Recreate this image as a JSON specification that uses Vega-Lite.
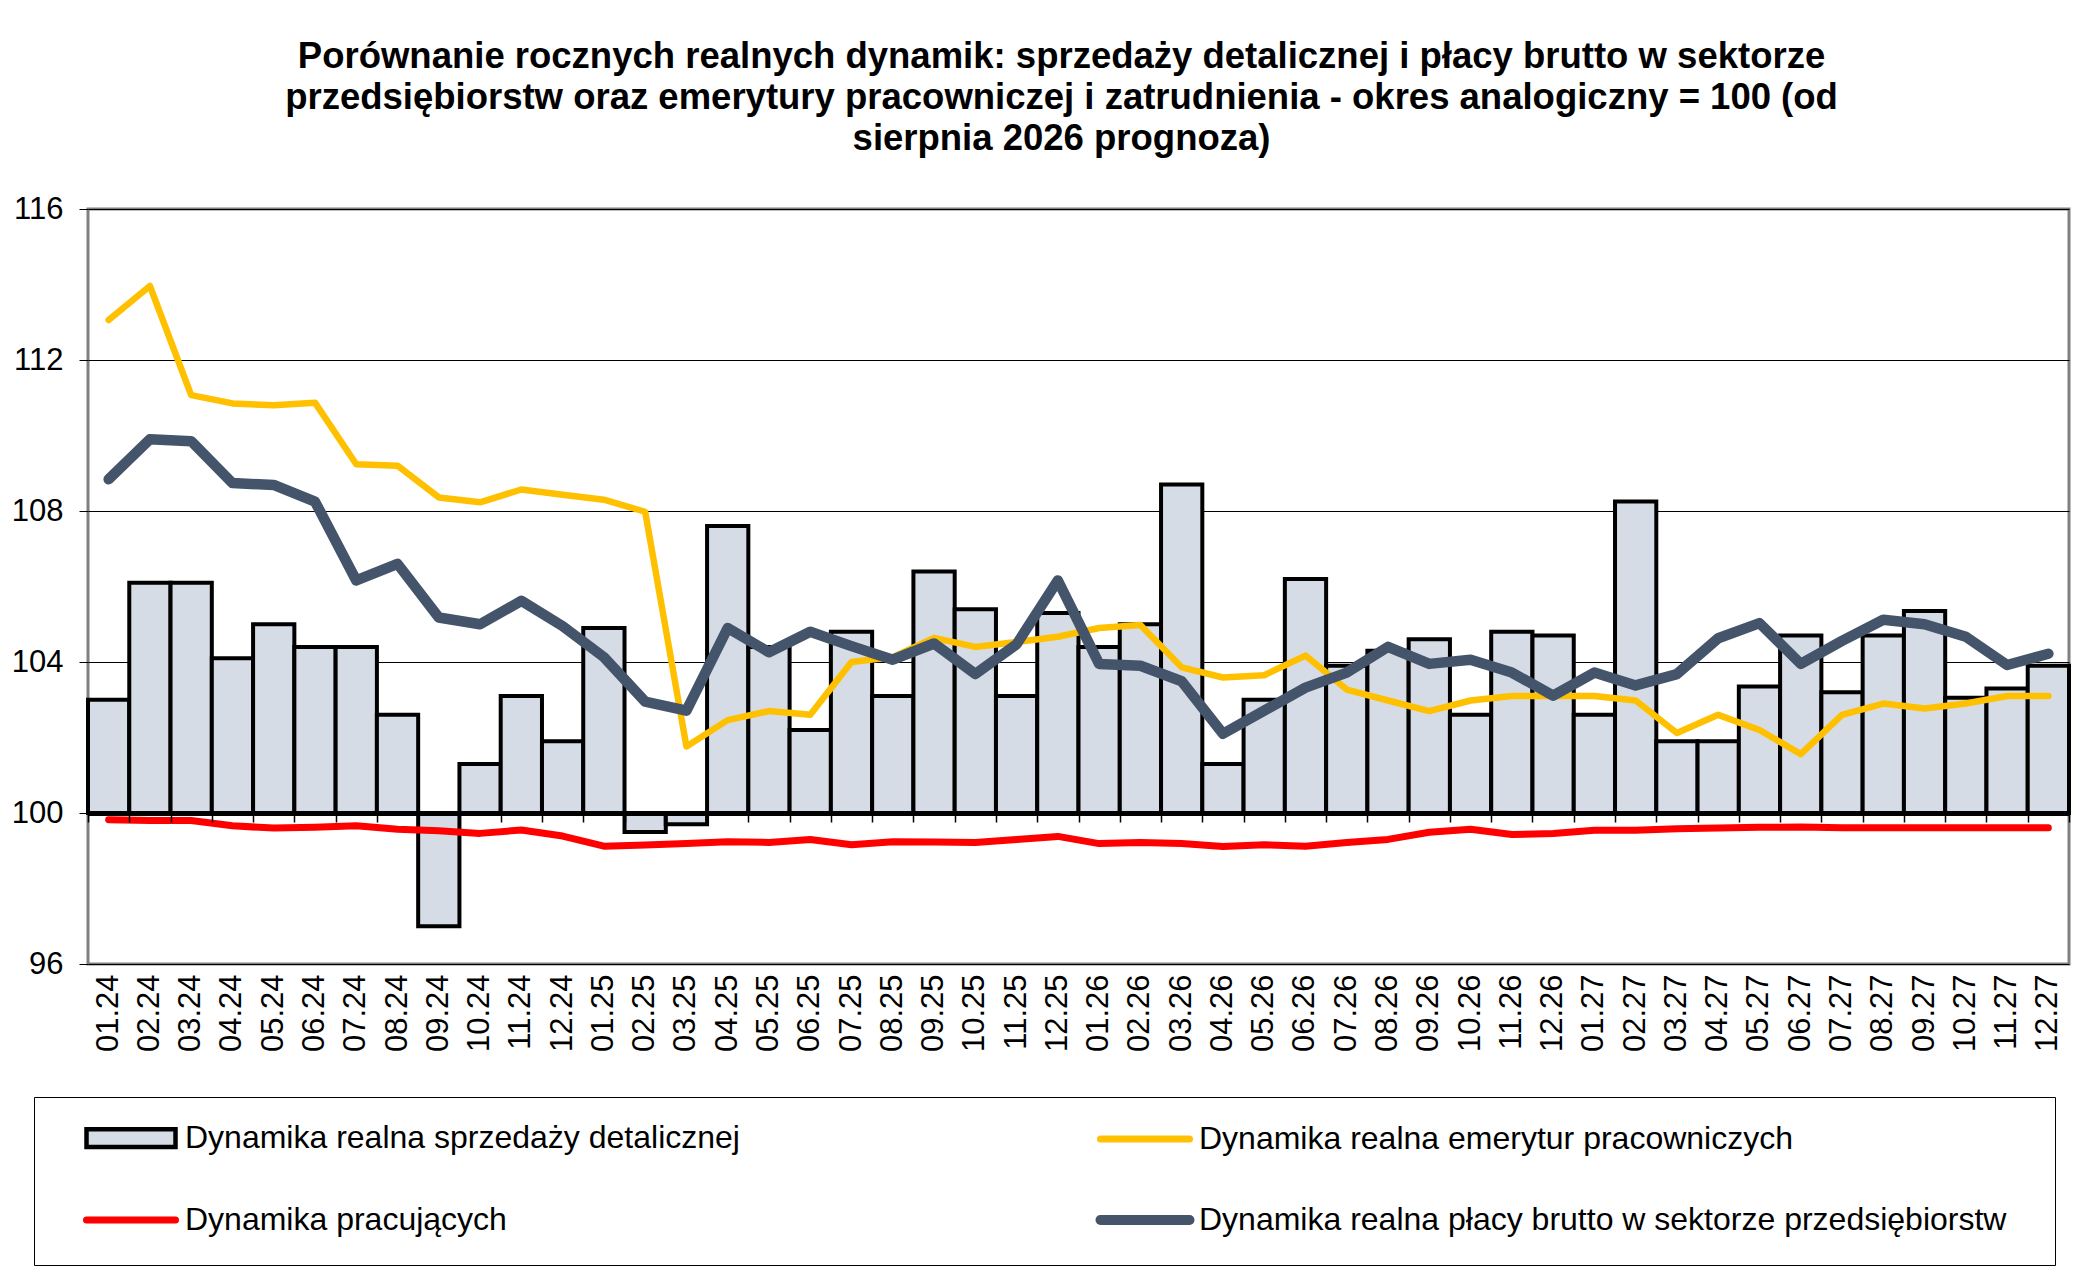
{
  "$schema": "https://vega.github.io/schema/vega-lite/v6.json",
  "width": 1981,
  "height": 755,
  "padding": {"left": 11, "top": 38, "right": 10, "bottom": 10},
  "background": "white",
  "config": {
    "font": "Liberation Sans",
    "view": {"stroke": "#808080", "strokeWidth": 3}
  },
  "title": {
    "text": [
      "Porównanie rocznych realnych dynamik: sprzedaży detalicznej i płacy brutto w sektorze",
      "przedsiębiorstw oraz emerytury pracowniczej i zatrudnienia - okres analogiczny = 100 (od",
      "sierpnia 2026 prognoza)"
    ],
    "fontSize": 36.5,
    "fontWeight": "bold",
    "lineHeight": 41,
    "anchor": "middle",
    "color": "black",
    "dx": -17,
    "offset": 36
  },
  "datasets": {
    "sales": [
      {"m": "01.24", "v": 103.0}, {"m": "02.24", "v": 106.1}, {"m": "03.24", "v": 106.1}, {"m": "04.24", "v": 104.1},
      {"m": "05.24", "v": 105.0}, {"m": "06.24", "v": 104.4}, {"m": "07.24", "v": 104.4}, {"m": "08.24", "v": 102.6},
      {"m": "09.24", "v": 97.0}, {"m": "10.24", "v": 101.3}, {"m": "11.24", "v": 103.1}, {"m": "12.24", "v": 101.9},
      {"m": "01.25", "v": 104.9}, {"m": "02.25", "v": 99.5}, {"m": "03.25", "v": 99.7}, {"m": "04.25", "v": 107.6},
      {"m": "05.25", "v": 104.4}, {"m": "06.25", "v": 102.2}, {"m": "07.25", "v": 104.8}, {"m": "08.25", "v": 103.1},
      {"m": "09.25", "v": 106.4}, {"m": "10.25", "v": 105.4}, {"m": "11.25", "v": 103.1}, {"m": "12.25", "v": 105.3},
      {"m": "01.26", "v": 104.4}, {"m": "02.26", "v": 105.0}, {"m": "03.26", "v": 108.7}, {"m": "04.26", "v": 101.3},
      {"m": "05.26", "v": 103.0}, {"m": "06.26", "v": 106.2}, {"m": "07.26", "v": 103.9}, {"m": "08.26", "v": 104.3},
      {"m": "09.26", "v": 104.6}, {"m": "10.26", "v": 102.6}, {"m": "11.26", "v": 104.8}, {"m": "12.26", "v": 104.7},
      {"m": "01.27", "v": 102.6}, {"m": "02.27", "v": 108.25}, {"m": "03.27", "v": 101.9}, {"m": "04.27", "v": 101.9},
      {"m": "05.27", "v": 103.35}, {"m": "06.27", "v": 104.7}, {"m": "07.27", "v": 103.2}, {"m": "08.27", "v": 104.7},
      {"m": "09.27", "v": 105.35}, {"m": "10.27", "v": 103.05}, {"m": "11.27", "v": 103.3}, {"m": "12.27", "v": 103.9}
    ],
    "lines": [
      {"m": "01.24", "s": "emer", "v": 113.06}, {"m": "02.24", "s": "emer", "v": 113.96}, {"m": "03.24", "s": "emer", "v": 111.07},
      {"m": "04.24", "s": "emer", "v": 110.85}, {"m": "05.24", "s": "emer", "v": 110.8}, {"m": "06.24", "s": "emer", "v": 110.87},
      {"m": "07.24", "s": "emer", "v": 109.24}, {"m": "08.24", "s": "emer", "v": 109.2}, {"m": "09.24", "s": "emer", "v": 108.36},
      {"m": "10.24", "s": "emer", "v": 108.23}, {"m": "11.24", "s": "emer", "v": 108.57}, {"m": "12.24", "s": "emer", "v": 108.43},
      {"m": "01.25", "s": "emer", "v": 108.3}, {"m": "02.25", "s": "emer", "v": 107.98}, {"m": "03.25", "s": "emer", "v": 101.76},
      {"m": "04.25", "s": "emer", "v": 102.46}, {"m": "05.25", "s": "emer", "v": 102.7}, {"m": "06.25", "s": "emer", "v": 102.6},
      {"m": "07.25", "s": "emer", "v": 104.0}, {"m": "08.25", "s": "emer", "v": 104.13}, {"m": "09.25", "s": "emer", "v": 104.64},
      {"m": "10.25", "s": "emer", "v": 104.4}, {"m": "11.25", "s": "emer", "v": 104.53}, {"m": "12.25", "s": "emer", "v": 104.67},
      {"m": "01.26", "s": "emer", "v": 104.9}, {"m": "02.26", "s": "emer", "v": 104.98}, {"m": "03.26", "s": "emer", "v": 103.86},
      {"m": "04.26", "s": "emer", "v": 103.59}, {"m": "05.26", "s": "emer", "v": 103.65}, {"m": "06.26", "s": "emer", "v": 104.17},
      {"m": "07.26", "s": "emer", "v": 103.27}, {"m": "08.26", "s": "emer", "v": 102.98}, {"m": "09.26", "s": "emer", "v": 102.7},
      {"m": "10.26", "s": "emer", "v": 102.98}, {"m": "11.26", "s": "emer", "v": 103.1}, {"m": "12.26", "s": "emer", "v": 103.1},
      {"m": "01.27", "s": "emer", "v": 103.1}, {"m": "02.27", "s": "emer", "v": 102.98}, {"m": "03.27", "s": "emer", "v": 102.12},
      {"m": "04.27", "s": "emer", "v": 102.6}, {"m": "05.27", "s": "emer", "v": 102.2}, {"m": "06.27", "s": "emer", "v": 101.56},
      {"m": "07.27", "s": "emer", "v": 102.6}, {"m": "08.27", "s": "emer", "v": 102.9}, {"m": "09.27", "s": "emer", "v": 102.77},
      {"m": "10.27", "s": "emer", "v": 102.9}, {"m": "11.27", "s": "emer", "v": 103.1}, {"m": "12.27", "s": "emer", "v": 103.1},

      {"m": "01.24", "s": "prac", "v": 99.82}, {"m": "02.24", "s": "prac", "v": 99.8}, {"m": "03.24", "s": "prac", "v": 99.8},
      {"m": "04.24", "s": "prac", "v": 99.66}, {"m": "05.24", "s": "prac", "v": 99.6}, {"m": "06.24", "s": "prac", "v": 99.62},
      {"m": "07.24", "s": "prac", "v": 99.66}, {"m": "08.24", "s": "prac", "v": 99.57}, {"m": "09.24", "s": "prac", "v": 99.53},
      {"m": "10.24", "s": "prac", "v": 99.46}, {"m": "11.24", "s": "prac", "v": 99.55}, {"m": "12.24", "s": "prac", "v": 99.39},
      {"m": "01.25", "s": "prac", "v": 99.12}, {"m": "02.25", "s": "prac", "v": 99.15}, {"m": "03.25", "s": "prac", "v": 99.19},
      {"m": "04.25", "s": "prac", "v": 99.24}, {"m": "05.25", "s": "prac", "v": 99.22}, {"m": "06.25", "s": "prac", "v": 99.3},
      {"m": "07.25", "s": "prac", "v": 99.16}, {"m": "08.25", "s": "prac", "v": 99.24}, {"m": "09.25", "s": "prac", "v": 99.23},
      {"m": "10.25", "s": "prac", "v": 99.22}, {"m": "11.25", "s": "prac", "v": 99.3}, {"m": "12.25", "s": "prac", "v": 99.38},
      {"m": "01.26", "s": "prac", "v": 99.19}, {"m": "02.26", "s": "prac", "v": 99.22}, {"m": "03.26", "s": "prac", "v": 99.19},
      {"m": "04.26", "s": "prac", "v": 99.11}, {"m": "05.26", "s": "prac", "v": 99.16}, {"m": "06.26", "s": "prac", "v": 99.12},
      {"m": "07.26", "s": "prac", "v": 99.22}, {"m": "08.26", "s": "prac", "v": 99.3}, {"m": "09.26", "s": "prac", "v": 99.49},
      {"m": "10.26", "s": "prac", "v": 99.57}, {"m": "11.26", "s": "prac", "v": 99.43}, {"m": "12.26", "s": "prac", "v": 99.46},
      {"m": "01.27", "s": "prac", "v": 99.54}, {"m": "02.27", "s": "prac", "v": 99.54}, {"m": "03.27", "s": "prac", "v": 99.58},
      {"m": "04.27", "s": "prac", "v": 99.6}, {"m": "05.27", "s": "prac", "v": 99.62}, {"m": "06.27", "s": "prac", "v": 99.63},
      {"m": "07.27", "s": "prac", "v": 99.61}, {"m": "08.27", "s": "prac", "v": 99.61}, {"m": "09.27", "s": "prac", "v": 99.61},
      {"m": "10.27", "s": "prac", "v": 99.61}, {"m": "11.27", "s": "prac", "v": 99.61}, {"m": "12.27", "s": "prac", "v": 99.61},

      {"m": "01.24", "s": "place", "v": 108.84}, {"m": "02.24", "s": "place", "v": 109.9}, {"m": "03.24", "s": "place", "v": 109.85},
      {"m": "04.24", "s": "place", "v": 108.74}, {"m": "05.24", "s": "place", "v": 108.69}, {"m": "06.24", "s": "place", "v": 108.25},
      {"m": "07.24", "s": "place", "v": 106.16}, {"m": "08.24", "s": "place", "v": 106.6}, {"m": "09.24", "s": "place", "v": 105.18},
      {"m": "10.24", "s": "place", "v": 105.0}, {"m": "11.24", "s": "place", "v": 105.62}, {"m": "12.24", "s": "place", "v": 104.95},
      {"m": "01.25", "s": "place", "v": 104.13}, {"m": "02.25", "s": "place", "v": 102.95}, {"m": "03.25", "s": "place", "v": 102.71},
      {"m": "04.25", "s": "place", "v": 104.9}, {"m": "05.25", "s": "place", "v": 104.26}, {"m": "06.25", "s": "place", "v": 104.8},
      {"m": "07.25", "s": "place", "v": 104.42}, {"m": "08.25", "s": "place", "v": 104.06}, {"m": "09.25", "s": "place", "v": 104.49},
      {"m": "10.25", "s": "place", "v": 103.68}, {"m": "11.25", "s": "place", "v": 104.47}, {"m": "12.25", "s": "place", "v": 106.16},
      {"m": "01.26", "s": "place", "v": 103.95}, {"m": "02.26", "s": "place", "v": 103.9}, {"m": "03.26", "s": "place", "v": 103.49},
      {"m": "04.26", "s": "place", "v": 102.1}, {"m": "05.26", "s": "place", "v": 102.71}, {"m": "06.26", "s": "place", "v": 103.32},
      {"m": "07.26", "s": "place", "v": 103.72}, {"m": "08.26", "s": "place", "v": 104.4}, {"m": "09.26", "s": "place", "v": 103.95},
      {"m": "10.26", "s": "place", "v": 104.06}, {"m": "11.26", "s": "place", "v": 103.72}, {"m": "12.26", "s": "place", "v": 103.11},
      {"m": "01.27", "s": "place", "v": 103.72}, {"m": "02.27", "s": "place", "v": 103.38}, {"m": "03.27", "s": "place", "v": 103.68},
      {"m": "04.27", "s": "place", "v": 104.63}, {"m": "05.27", "s": "place", "v": 105.03}, {"m": "06.27", "s": "place", "v": 103.95},
      {"m": "07.27", "s": "place", "v": 104.56}, {"m": "08.27", "s": "place", "v": 105.12}, {"m": "09.27", "s": "place", "v": 105.0},
      {"m": "10.27", "s": "place", "v": 104.67}, {"m": "11.27", "s": "place", "v": 103.92}, {"m": "12.27", "s": "place", "v": 104.22}
    ]
  },
  "resolve": {"axis": {"x": "independent"}},
  "layer": [
    {
      "data": {"name": "sales"},
      "mark": {"type": "bar", "fill": "#D6DCE5", "stroke": "black", "strokeWidth": 4},
      "encoding": {
        "x": {
          "field": "m",
          "type": "ordinal",
          "sort": null,
          "scale": {"paddingInner": 0, "paddingOuter": 0},
          "axis": {
            "title": null,
            "labelAngle": -90,
            "labelFontSize": 31,
            "labelColor": "black",
            "labelPadding": 10,
            "ticks": false,
            "domain": false,
            "grid": false
          }
        },
        "y": {
          "field": "v",
          "type": "quantitative",
          "scale": {"domain": [96, 116], "nice": false, "zero": false},
          "axis": {
            "title": null,
            "values": [96, 100, 104, 108, 112, 116],
            "labelFontSize": 31,
            "labelColor": "black",
            "labelPadding": 16,
            "domain": false,
            "tickColor": "black",
            "tickSize": 9,
            "grid": true,
            "gridColor": "black",
            "gridWidth": 1
          }
        },
        "y2": {"datum": 100}
      }
    },
    {
      "data": {"name": "lines"},
      "transform": [{"filter": "datum.s == 'prac'"}],
      "mark": {"type": "line", "strokeWidth": 7, "strokeCap": "round", "strokeJoin": "round"},
      "encoding": {
        "x": {
          "field": "m",
          "type": "ordinal",
          "sort": null,
          "axis": {
            "orient": "top",
            "title": null,
            "labels": false,
            "grid": false,
            "domainColor": "black",
            "domainWidth": 5,
            "tickColor": "black",
            "tickWidth": 1.5,
            "tickSize": -9,
            "tickBand": "extent",
            "offset": {"expr": "-height*0.8"},
            "zindex": 1
          }
        },
        "y": {"field": "v", "type": "quantitative"},
        "color": {
          "field": "s",
          "type": "nominal",
          "scale": {
            "domain": ["sprz", "prac", "emer", "place"],
            "range": ["black", "#FF0000", "#FFC000", "#44546A"]
          },
          "legend": {
            "orient": "none",
            "legendX": -54,
            "legendY": 888,
            "columns": 2,
            "title": null,
            "labelFontSize": 32,
            "labelColor": "black",
            "labelLimit": 0,
            "labelOffset": 38,
            "symbolOffset": 56,
            "symbolSize": 7921,
            "symbolStrokeWidth": 7,
            "columnPadding": 333,
            "rowPadding": 44,
            "padding": 25,
            "strokeColor": "black",
            "fillColor": "white",
            "labelExpr": "datum.value == 'sprz' ? 'Dynamika realna sprzedaży detalicznej' : datum.value == 'emer' ? 'Dynamika realna emerytur pracowniczych' : datum.value == 'prac' ? 'Dynamika pracujących' : 'Dynamika realna płacy brutto w sektorze przedsiębiorstw\u2800'",
            "encode": {
              "symbols": {
                "update": {
                  "size": {"value": 7921},
                  "shape": {"signal": "datum.value == 'sprz' ? 'M-1,-0.2H1V0.2H-1Z' : 'stroke'"},
                  "fill": {"signal": "datum.value == 'sprz' ? '#D6DCE5' : 'transparent'"},
                  "strokeWidth": {"signal": "datum.value == 'sprz' ? 4.5 : datum.value == 'place' ? 10 : 7"},
                  "strokeCap": {"value": "round"},
                  "opacity": {"value": 1}
                }
              }
            }
          }
        }
      }
    },
    {
      "data": {"name": "lines"},
      "transform": [{"filter": "datum.s == 'emer'"}],
      "mark": {"type": "line", "strokeWidth": 6.5, "strokeCap": "round", "strokeJoin": "round"},
      "encoding": {
        "x": {"field": "m", "type": "ordinal", "sort": null, "axis": null},
        "y": {"field": "v", "type": "quantitative"},
        "color": {"field": "s", "type": "nominal"}
      }
    },
    {
      "data": {"name": "lines"},
      "transform": [{"filter": "datum.s == 'place'"}],
      "mark": {"type": "line", "strokeWidth": 10.5, "strokeCap": "round", "strokeJoin": "round"},
      "encoding": {
        "x": {"field": "m", "type": "ordinal", "sort": null, "axis": null},
        "y": {"field": "v", "type": "quantitative"},
        "color": {"field": "s", "type": "nominal"}
      }
    }
  ]
}
